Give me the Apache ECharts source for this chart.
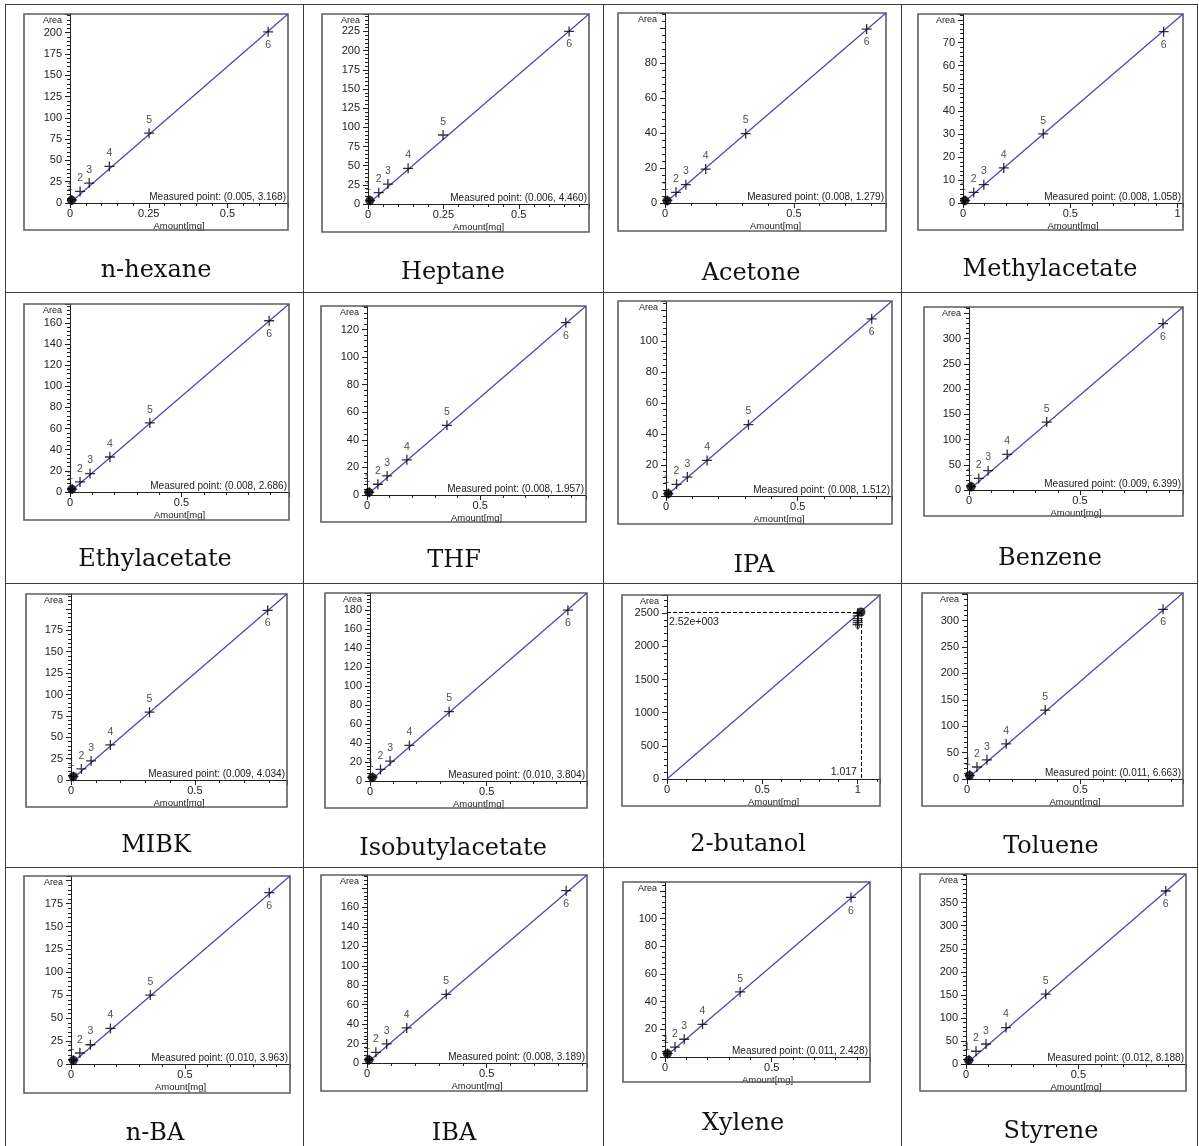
<!DOCTYPE html>
<html>
<head>
<meta charset="utf-8">
<title>Calibration curves</title>
<script src="https://cdn.jsdelivr.net/npm/echarts@6/dist/echarts.min.js"></script>
<style>
  html, body { margin: 0; padding: 0; background: #fff; }
  #main { width: 1199px; height: 1146px; }
</style>
</head>
<body>
<div id="main"></div>
<script>
// compounds, row by row
let names = ['n-hexane', 'Heptane', 'Acetone', 'Methylacetate',
             'Ethylacetate', 'THF', 'IPA', 'Benzene',
             'MIBK', 'Isobutylacetate', '2-butanol', 'Toluene',
             'n-BA', 'IBA', 'Xylene', 'Styrene'];

// end of the amount axis [mg] and slope of the calibration line (area / mg)
let xMax   = [0.692, 0.733, 0.857, 1.025, 0.982, 0.967, 0.858, 0.964,
              0.872, 0.930, 1.117, 0.953, 0.961, 0.919, 0.961, 0.979];
let slopes = [320.7, 338.0, 126.7, 80.5, 181.0, 141.7, 146.5, 376.0,
              249.4, 213.0, 2485, 369.7, 213.5, 210.4, 131.5, 421.0];

// major tick steps and the highest labelled area tick
let xStep     = [0.25, 0.25, 0.5, 0.5, 0.5, 0.5, 0.5, 0.5, 0.5, 0.5, 0.5, 0.5, 0.5, 0.5, 0.5, 0.5];
let yStep     = [25, 25, 20, 10, 20, 20, 20, 50, 25, 20, 500, 50, 25, 20, 20, 50];
let yLabelTop = [200, 225, 80, 70, 160, 120, 100, 300, 175, 180, 2500, 300, 175, 160, 100, 350];

// calibration levels 1..6  [amount mg, area]
let levels = [
  [[0.006, 3.5], [0.032, 13.6], [0.061, 23.4], [0.125, 42.9], [0.251, 82.0], [0.629, 201.0]],
  [[0.007, 4.6], [0.0355, 14.8], [0.066, 26.0], [0.133, 46.5], [0.249, 90.0], [0.667, 225.0]],
  [[0.009, 1.5], [0.0425, 6.1], [0.081, 10.5], [0.158, 19.4], [0.313, 39.6], [0.782, 99.4]],
  [[0.010, 1.1], [0.050, 4.6], [0.097, 8.0], [0.190, 15.3], [0.374, 30.2], [0.935, 74.8]],
  [[0.010, 2.8], [0.045, 9.5], [0.090, 17.4], [0.179, 33.1], [0.358, 65.3], [0.893, 161.9]],
  [[0.010, 2.0], [0.048, 7.8], [0.089, 13.8], [0.176, 25.5], [0.353, 50.5], [0.878, 124.9]],
  [[0.009, 1.6], [0.040, 7.5], [0.081, 12.2], [0.156, 22.9], [0.313, 46.0], [0.781, 114.2]],
  [[0.010, 6.8], [0.044, 23.0], [0.086, 38.2], [0.172, 70.5], [0.350, 134.5], [0.874, 329.6]],
  [[0.010, 4.2], [0.042, 12.9], [0.081, 22.3], [0.159, 41.0], [0.317, 79.3], [0.794, 198.4]],
  [[0.011, 4.0], [0.045, 12.2], [0.086, 21.0], [0.169, 37.5], [0.339, 73.0], [0.848, 180.0]],
  [[1.000, 2330], [1.000, 2360], [1.000, 2390], [1.000, 2420], [1.000, 2460], [1.000, 2500]],
  [[0.012, 7.0], [0.044, 22.7], [0.088, 36.4], [0.173, 66.7], [0.345, 130.5], [0.865, 321.4]],
  [[0.011, 4.2], [0.039, 12.0], [0.085, 21.0], [0.173, 38.8], [0.348, 75.2], [0.870, 187.0]],
  [[0.009, 3.4], [0.037, 11.0], [0.082, 19.6], [0.166, 36.1], [0.331, 70.6], [0.832, 177.2]],
  [[0.012, 2.6], [0.047, 7.2], [0.090, 12.8], [0.176, 23.6], [0.352, 47.0], [0.872, 115.2]],
  [[0.013, 8.6], [0.0445, 27.7], [0.089, 43.4], [0.178, 79.0], [0.355, 151.5], [0.889, 375.3]]
];

// measured sample  [amount mg, area]
let measured = [[0.005, 3.168], [0.006, 4.460], [0.008, 1.279], [0.008, 1.058],
                [0.008, 2.686], [0.008, 1.957], [0.008, 1.512], [0.009, 6.399],
                [0.009, 4.034], [0.010, 3.804], [1.017, 2520], [0.011, 6.663],
                [0.010, 3.963], [0.008, 3.189], [0.011, 2.428], [0.012, 8.188]];
// panels that show a crosshair on the measured point instead of the text
let crosshair = [10];

// layout: [frame left, frame top, frame right, frame bottom, y axis x, x axis y]
let frames = [
  [24, 14, 288, 230, 70, 203], [322, 14, 589, 232, 368, 204],
  [618, 13, 886, 231, 665, 203], [918, 14, 1183, 230, 963, 203],
  [24, 304, 289, 520, 70, 492], [321, 306, 586, 522, 367, 495],
  [618, 301, 892, 524, 666, 496], [924, 307, 1183, 516, 969, 490],
  [26, 594, 287, 807, 71, 780], [325, 593, 587, 808, 370, 781],
  [622, 595, 880, 806, 667, 779], [922, 593, 1183, 806, 967, 779],
  [24, 876, 290, 1093, 71, 1064], [321, 875, 587, 1091, 367, 1063],
  [623, 882, 870, 1082, 665, 1057], [920, 874, 1186, 1091, 966, 1064]
];
// centre of each compound name
let titlePos = [
  [156, 271], [453, 273], [751, 274], [1050, 270],
  [155, 560], [454, 561], [754, 566], [1050, 559],
  [156, 846], [453, 849], [748, 845], [1051, 847],
  [155, 1134], [454, 1134], [743, 1124], [1051, 1132]
];
// table rules
let rowLines = [4, 292, 583, 867];
let colLines = [5, 303, 603, 901, 1197];

let sans = '"Liberation Sans", Arial, sans-serif';
let ink = '#222';

function onStep(v, step) {
  let r = v / step;
  return Math.abs(r - Math.round(r)) < 1e-6;
}
function sciText(v) {
  // 2520 -> 2.52e+003
  let e = Math.floor(Math.log10(v));
  let m = (v / Math.pow(10, e)).toFixed(2);
  return m + 'e+' + ('00' + e).slice(-3);
}

let grids = [], xAxes = [], yAxes = [], series = [], graphics = [];

names.forEach(function (name, i) {
  let f = frames[i];
  let yMax = xMax[i] * slopes[i];
  let butanol = crosshair.indexOf(i) >= 0;

  grids.push({ left: f[4], top: f[1], width: f[2] - f[4], height: f[5] - f[1] });

  xAxes.push({
    gridIndex: i, type: 'value', min: 0, max: xMax[i], interval: xStep[i],
    name: 'Amount[mg]', nameLocation: 'middle', nameGap: 18,
    nameTextStyle: { fontSize: 9.5, color: ink, fontFamily: sans },
    axisLine: { onZero: false, lineStyle: { color: '#222', width: 1 } },
    axisTick: { length: 5, lineStyle: { color: '#222' } },
    minorTick: { show: true, splitNumber: 5, length: 3, lineStyle: { color: '#222' } },
    splitLine: { show: false },
    axisLabel: {
      margin: 5, fontSize: 11, color: ink, fontFamily: sans,
      formatter: function (v) { return onStep(v, xStep[i]) ? String(v) : ''; }
    }
  });

  yAxes.push({
    gridIndex: i, type: 'value', min: 0, max: yMax, interval: yStep[i],
    name: 'Area', nameLocation: 'end', nameGap: -2,
    nameTextStyle: { fontSize: 9, color: ink, fontFamily: sans, align: 'right', verticalAlign: 'top', padding: [0, 8, 0, 0] },
    axisLine: { onZero: false, lineStyle: { color: '#222', width: 1 } },
    axisTick: { length: 5, lineStyle: { color: '#222' } },
    minorTick: { show: true, splitNumber: 5, length: 3, lineStyle: { color: '#222' } },
    splitLine: { show: false },
    axisLabel: {
      margin: 8, fontSize: 11, color: ink, fontFamily: sans,
      formatter: function (v) { return (onStep(v, yStep[i]) && v <= yLabelTop[i] + 1e-9) ? String(v) : ''; }
    }
  });

  // calibration line through the origin
  series.push({
    type: 'line', xAxisIndex: i, yAxisIndex: i, silent: true,
    data: [[0, 0], [xMax[i], yMax]],
    showSymbol: false, z: 2,
    lineStyle: { color: '#4b41b6', width: 1.2 }
  });

  // calibration levels as crosses with their numbers
  series.push({
    type: 'scatter', xAxisIndex: i, yAxisIndex: i, silent: true, z: 3,
    symbol: 'path://M5 0V10M0 5H10', symbolSize: 10,
    itemStyle: { color: 'transparent', borderColor: '#000', borderWidth: 1.3 },
    label: {
      show: true, position: 'top', distance: 2, fontSize: 10.5, color: ink, fontFamily: sans,
      formatter: function (p) { return p.dataIndex + 1; }
    },
    data: levels[i].map(function (p, k) {
      let item = { value: p };
      if (k === 5) item.label = { position: 'bottom' };
      else if (butanol) item.label = { show: false };
      else if (k === 0) item.label = { offset: [-2, 0] };
      return item;
    })
  });

  // measured sample
  let m = measured[i];
  let ms = {
    type: 'scatter', xAxisIndex: i, yAxisIndex: i, silent: true, z: 4,
    symbol: 'circle', symbolSize: 9,
    itemStyle: { color: '#000' },
    data: [m]
  };
  if (butanol) {
    ms.markLine = {
      silent: true, symbol: 'none', animation: false,
      lineStyle: { type: 'dashed', color: '#000', width: 1 },
      label: { show: false },
      data: [
        [{ coord: [0, m[1]] }, { coord: [m[0], m[1]] }],
        [{ coord: [m[0], m[1]] }, { coord: [m[0], 0] }]
      ]
    };
    ms.markPoint = {
      silent: true, symbol: 'circle', symbolSize: 0, animation: false,
      label: { fontSize: 10.5, color: ink, fontFamily: sans },
      data: [
        { coord: [0, m[1]], label: { position: 'right', distance: 2, offset: [0, 10], formatter: sciText(m[1]) } },
        { coord: [m[0], 0], label: { position: 'left', distance: 4, offset: [0, -7], formatter: m[0].toFixed(3) } }
      ]
    };
  } else {
    graphics.push({
      type: 'text', x: f[2] - 2, y: f[5] - 1, silent: true, z: 5,
      style: {
        text: 'Measured point: (' + m[0].toFixed(3) + ', ' + m[1].toFixed(3) + ')',
        fontSize: 10, fontFamily: sans, fill: ink, align: 'right', verticalAlign: 'bottom'
      }
    });
  }
  series.push(ms);

  // frame of the plot picture
  graphics.push({
    type: 'rect', silent: true, z: 1,
    shape: { x: f[0], y: f[1], width: f[2] - f[0], height: f[3] - f[1] },
    style: { fill: 'none', stroke: '#5e5e5e', lineWidth: 1.6 }
  });

  // compound name under the plot
  graphics.push({
    type: 'text', x: titlePos[i][0], y: titlePos[i][1], silent: true,
    style: { text: name, fontSize: 24, fontFamily: '"DejaVu Serif", serif', fill: '#111', align: 'center', verticalAlign: 'middle' }
  });
});

// table grid
rowLines.forEach(function (y) {
  graphics.push({ type: 'line', silent: true, shape: { x1: colLines[0], y1: y + 0.5, x2: colLines[colLines.length - 1], y2: y + 0.5 },
    style: { stroke: '#3a3a3a', lineWidth: 1 } });
});
colLines.forEach(function (x) {
  graphics.push({ type: 'line', silent: true, shape: { x1: x + 0.5, y1: rowLines[0], x2: x + 0.5, y2: 1146 },
    style: { stroke: '#3a3a3a', lineWidth: 1 } });
});

let chart = echarts.init(document.getElementById('main'));
chart.setOption({
  backgroundColor: '#fff',
  animation: false,
  grid: grids,
  xAxis: xAxes,
  yAxis: yAxes,
  series: series,
  graphic: graphics
});
</script>
</body>
</html>
